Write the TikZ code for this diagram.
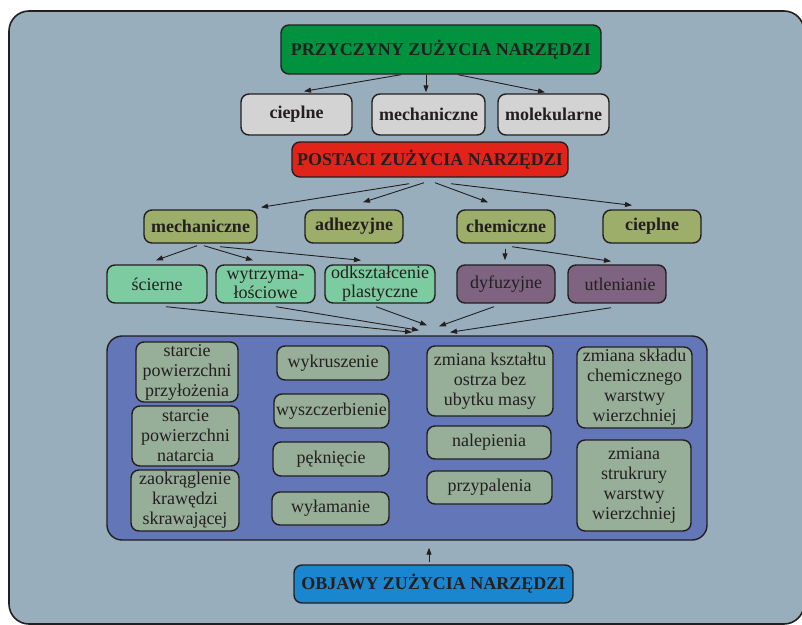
\documentclass[tikz,border=0pt]{standalone}
\usepackage{fontspec}
\setmainfont{Liberation Serif}
\usetikzlibrary{arrows.meta}
\definecolor{bgc}{RGB}{152,174,189}
\definecolor{edgec}{RGB}{35,31,32}
\definecolor{greenc}{RGB}{0,146,63}
\definecolor{grayc}{RGB}{211,211,211}
\definecolor{redc}{RGB}{226,35,26}
\definecolor{olivec}{RGB}{157,174,106}
\definecolor{mintc}{RGB}{125,203,160}
\definecolor{purplec}{RGB}{126,100,128}
\definecolor{innerc}{RGB}{98,118,184}
\definecolor{sagec}{RGB}{151,174,152}
\definecolor{bluec}{RGB}{26,134,207}
\tikzset{
  box/.style={draw=edgec, line width=1.4pt, rounded corners=8pt, inner sep=1pt,
    align=center, text=edgec},
  hdr/.style={box, font=\fontsize{18}{20}\selectfont\bfseries},
  reg/.style={box, font=\fontsize{18}{19}\selectfont},
  inn/.style={box, fill=sagec, font=\fontsize{18}{20}\selectfont},
  arr/.style={draw=edgec, line width=0.9pt, -{Triangle[length=7pt,width=5pt]}},
}
\begin{document}
\begin{tikzpicture}[x=1pt,y=-1pt]
\useasboundingbox (0,0) rectangle (802,624);
\draw[fill=bgc, draw=edgec, line width=1.6pt, rounded corners=20pt] (9,11) rectangle (804,624);
% top level
\node[hdr, fill=greenc, minimum width=320pt, minimum height=49pt] (t) at (441,49.5) {PRZYCZYNY ZUŻYCIA NARZĘDZI};
\node[hdr, fill=grayc, minimum width=111pt, minimum height=41pt] (g1) at (296.5,114.5) {cieplne};
\node[hdr, fill=grayc, minimum width=113pt, minimum height=41pt] (g2) at (428.5,114.5) {mechaniczne};
\node[hdr, fill=grayc, minimum width=111pt, minimum height=41pt] (g3) at (553.5,114.5) {molekularne};
\node[hdr, fill=redc, minimum width=276pt, minimum height=35pt] (r) at (430,159.5) {POSTACI ZUŻYCIA NARZĘDZI};
\node[hdr, fill=olivec, minimum width=113pt, minimum height=33pt] (o1) at (200.5,226.5) {mechaniczne};
\node[hdr, fill=olivec, minimum width=98pt, minimum height=33pt] (o2) at (354,226.5) {adhezyjne};
\node[hdr, fill=olivec, minimum width=98pt, minimum height=33pt] (o3) at (506,226.5) {chemiczne};
\node[hdr, fill=olivec, minimum width=98pt, minimum height=33pt] (o4) at (652,226.5) {cieplne};
\node[reg, fill=mintc, minimum width=100pt, minimum height=38pt] (m1) at (157,284) {ścierne};
\node[reg, fill=mintc, minimum width=99pt, minimum height=38pt] (m2) at (265.5,284) {wytrzyma-\\łościowe};
\node[reg, fill=mintc, minimum width=110pt, minimum height=38pt] (m3) at (380,284) {odkształcenie\\plastyczne};
\node[reg, fill=purplec, minimum width=98pt, minimum height=38pt] (p1) at (506,284) {dyfuzyjne};
\node[reg, fill=purplec, minimum width=98pt, minimum height=38pt] (p2) at (617,284) {\hspace{6pt}utlenianie};
% inner panel
\node[draw=edgec, line width=1.4pt, fill=innerc, rounded corners=15pt, minimum width=600pt, minimum height=204pt, inner sep=0pt] (in) at (407,438) {};
\node[inn, minimum width=102pt, minimum height=60pt] (s1) at (187,372) {starcie\\powierzchni\\przyłożenia};
\node[inn, minimum width=107pt, minimum height=60pt] (s2) at (185.5,436) {starcie\\powierzchni\\natarcia};
\node[inn, minimum width=108pt, minimum height=61pt] (s3) at (185,500.5) {zaokrąglenie\\krawędzi\\skrawającej};
\node[inn, minimum width=112pt, minimum height=34pt] (w1) at (333,363) {wykruszenie};
\node[inn, minimum width=115pt, minimum height=34pt] (w2) at (331.5,411) {wyszczerbienie};
\node[inn, minimum width=116pt, minimum height=34pt] (w3) at (331,459) {pęknięcie};
\node[inn, minimum width=117pt, minimum height=33pt] (w4) at (330.5,508.5) {wyłamanie};
\node[inn, minimum width=126pt, minimum height=70pt] (z1) at (490,381) {zmiana kształtu\\ostrza bez\\ubytku masy};
\node[inn, minimum width=124pt, minimum height=33pt] (z2) at (489,442.5) {nalepienia};
\node[inn, minimum width=125pt, minimum height=33pt] (z3) at (489.5,487.5) {przypalenia};
\node[inn, minimum width=115pt, minimum height=81pt] (q1) at (634.5,387.5) {zmiana składu\\chemicznego\\warstwy\\wierzchniej};
\node[inn, minimum width=114pt, minimum height=91pt] (q2) at (634,485.5) {zmiana\\strukrury\\warstwy\\wierzchniej};
\node[hdr, fill=bluec, minimum width=279pt, minimum height=38pt] (ob) at (433.5,584) {OBJAWY ZUŻYCIA NARZĘDZI};
% arrows
\draw[arr] ([xshift=-40pt]t.south) -- ([xshift=7.5pt,yshift=2pt]g1.north);
\draw[arr] ([xshift=-15pt]t.south) -- ([xshift=-2.5pt,yshift=1pt]g2.north);
\draw[arr] ([xshift=17pt]t.south) -- ([xshift=-8.5pt,yshift=1pt]g3.north);
\draw[arr] ([xshift=-21pt,yshift=-6pt]r.south) -- ([xshift=60.5pt,yshift=2pt]o1.north);
\draw[arr] ([xshift=-6pt,yshift=-5pt]r.south) -- ([xshift=9pt,yshift=7pt]o2.north);
\draw[arr] ([xshift=5pt,yshift=-5pt]r.south) -- ([xshift=-18pt,yshift=7pt]o3.north);
\draw[arr] ([xshift=21pt,yshift=-6pt]r.south) -- ([xshift=-20pt,yshift=4pt]o4.north);
\draw[arr] ([xshift=-3.5pt,yshift=-2pt]o1.south) -- ([xshift=-1pt,yshift=4pt]m1.north);
\draw[arr] ([xshift=3.5pt,yshift=-2pt]o1.south) -- ([xshift=-12.5pt,yshift=4pt]m2.north);
\draw[arr] ([xshift=19.5pt,yshift=-3pt]o1.south) -- ([xshift=-19pt,yshift=4pt]m3.north);
\draw[arr] ([xshift=-1pt,yshift=-5pt]o3.south) -- ([xshift=-1pt,yshift=4pt]p1.north);
\draw[arr] ([xshift=6pt,yshift=-3pt]o3.south) -- ([xshift=-6pt,yshift=3pt]p2.north);
\draw[arr] ([xshift=9pt,yshift=-3pt]m1.south) -- ([xshift=5pt,yshift=3pt]in.north);
\draw[arr] ([xshift=10.5pt,yshift=-3pt]m2.south) -- ([xshift=12pt,yshift=5pt]in.north);
\draw[arr] ([xshift=-4pt,yshift=-3pt]m3.south) -- ([xshift=20pt,yshift=10pt]in.north);
\draw[arr] ([xshift=-12pt,yshift=-3pt]p1.south) -- ([xshift=32pt,yshift=9pt]in.north);
\draw[arr] ([xshift=-6pt,yshift=-4pt]p2.south) -- ([xshift=43pt,yshift=3pt]in.north);
\draw[arr] ([xshift=-4.5pt,yshift=2pt]ob.north) -- ([xshift=22pt,yshift=-7pt]in.south);
\end{tikzpicture}
\end{document}
